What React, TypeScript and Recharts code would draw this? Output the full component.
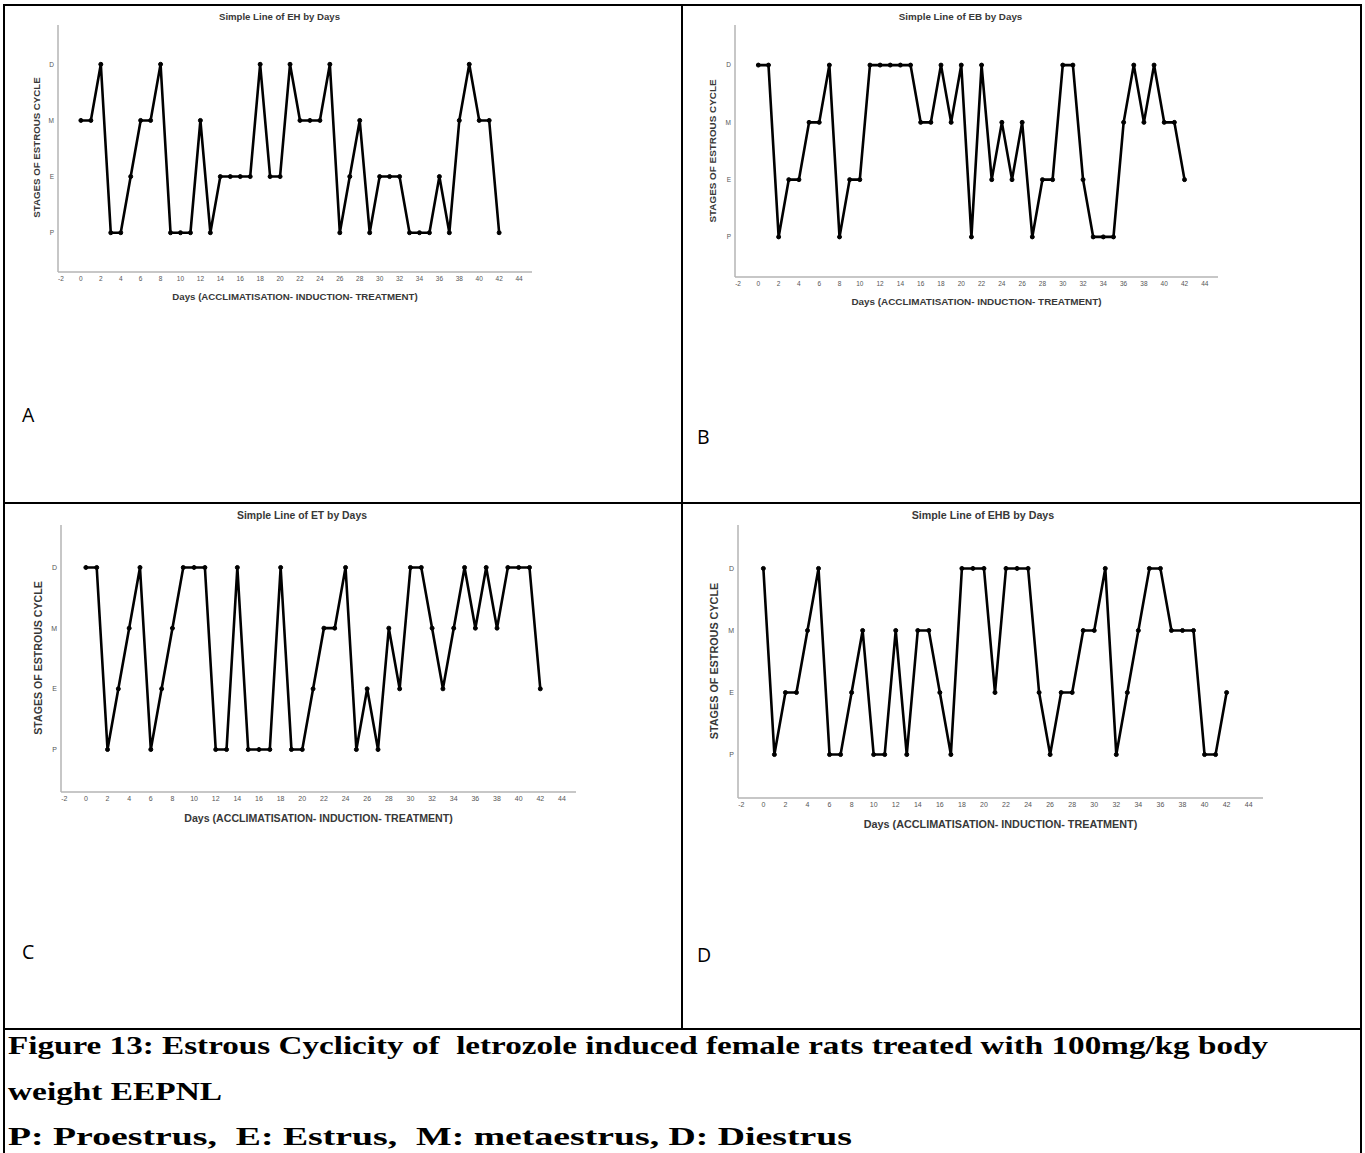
import { Line, LineChart, XAxis, YAxis } from "recharts";

// days of observation (acclimatisation - induction - treatment)
const days = [
  0, 1, 2, 3, 4, 5, 6, 7, 8, 9, 10, 11, 12, 13, 14, 15, 16, 17, 18, 19, 20, 21,
  22, 23, 24, 25, 26, 27, 28, 29, 30, 31, 32, 33, 34, 35, 36, 37, 38, 39, 40,
  41, 42,
];
const dayTicks = [
  -2, 0, 2, 4, 6, 8, 10, 12, 14, 16, 18, 20, 22, 24, 26, 28, 30, 32, 34, 36,
  38, 40, 42, 44,
];
const stageNames = ["P", "E", "M", "D"];
const stageTicks = [1, 2, 3, 4];

// stage read per day for each group
const ehStages = [
  "M", "M", "D", "P", "P", "E", "M", "M", "D", "P", "P", "P", "M", "P", "E",
  "E", "E", "E", "D", "E", "E", "D", "M", "M", "M", "D", "P", "E", "M", "P",
  "E", "E", "E", "P", "P", "P", "E", "P", "M", "D", "M", "M", "P",
];
const ebStages = [
  "D", "D", "P", "E", "E", "M", "M", "D", "P", "E", "E", "D", "D", "D", "D",
  "D", "M", "M", "D", "M", "D", "P", "D", "E", "M", "E", "M", "P", "E", "E",
  "D", "D", "E", "P", "P", "P", "M", "D", "M", "D", "M", "M", "E",
];
const etStages = [
  "D", "D", "P", "E", "M", "D", "P", "E", "M", "D", "D", "D", "P", "P", "D",
  "P", "P", "P", "D", "P", "P", "E", "M", "M", "D", "P", "E", "P", "M", "E",
  "D", "D", "M", "E", "M", "D", "M", "D", "M", "D", "D", "D", "E",
];
const ehbStages = [
  "D", "P", "E", "E", "M", "D", "P", "P", "E", "M", "P", "P", "M", "P", "M",
  "M", "E", "P", "D", "D", "D", "E", "D", "D", "D", "E", "P", "E", "E", "M",
  "M", "D", "P", "E", "M", "D", "D", "M", "M", "M", "P", "P", "E",
];

const toRows = (stages: string[]) =>
  days.map((day, i) => ({ day, stage: stageNames.indexOf(stages[i]) + 1 }));

type Panel = {
  title: string;
  stages: string[];
  plot: { l: number; t: number; r: number; b: number };
  titleX: number;
  titleY: number;
  titleSize: number;
  yTitleX: number;
  yTitleY: number;
  xTitleY: number;
  axisTitleSize: number;
  tickSize: number;
  letter: string;
  letterX: number;
  letterY: number;
};

const panels: Panel[] = [
  {
    title: "Simple Line of EH by Days",
    stages: ehStages,
    plot: { l: 58, t: 25, r: 532, b: 272 },
    titleX: 279.5,
    titleY: 20,
    titleSize: 9.6,
    yTitleX: 36,
    yTitleY: 147.5,
    xTitleY: 300,
    axisTitleSize: 9.7,
    tickSize: 6.5,
    letter: "A",
    letterX: 22,
    letterY: 422,
  },
  {
    title: "Simple Line of EB by Days",
    stages: ebStages,
    plot: { l: 735, t: 25, r: 1218, b: 277 },
    titleX: 960.5,
    titleY: 20,
    titleSize: 9.8,
    yTitleX: 712.5,
    yTitleY: 151,
    xTitleY: 305,
    axisTitleSize: 9.9,
    tickSize: 6.5,
    letter: "B",
    letterX: 697,
    letterY: 444,
  },
  {
    title: "Simple Line of ET by Days",
    stages: etStages,
    plot: { l: 61, t: 525, r: 576, b: 792 },
    titleX: 302,
    titleY: 519,
    titleSize: 10.4,
    yTitleX: 38,
    yTitleY: 658,
    xTitleY: 822,
    axisTitleSize: 10.6,
    tickSize: 7,
    letter: "C",
    letterX: 22,
    letterY: 959,
  },
  {
    title: "Simple Line of EHB by Days",
    stages: ehbStages,
    plot: { l: 738, t: 525, r: 1263, b: 798 },
    titleX: 983,
    titleY: 519,
    titleSize: 10.7,
    yTitleX: 714,
    yTitleY: 661,
    xTitleY: 828,
    axisTitleSize: 10.8,
    tickSize: 7,
    letter: "D",
    letterX: 697,
    letterY: 962,
  },
];

const SANS = "'Liberation Sans', Arial, sans-serif";
const AXIS = { stroke: "#b4b4b4", strokeWidth: 1.5 };

function StagePanel({ p }: { p: Panel }) {
  const yw = 40;
  const xh = 22;
  const pad = 3;
  const w = yw + (p.plot.r - p.plot.l) + pad;
  const h = pad + (p.plot.b - p.plot.t) + xh;
  return (
    <div style={{ position: "absolute", left: p.plot.l - yw, top: p.plot.t - pad }}>
      <LineChart
        width={w}
        height={h}
        data={toRows(p.stages)}
        margin={{ top: pad, right: pad, bottom: 0, left: 0 }}
      >
        <XAxis
          type="number"
          dataKey="day"
          domain={[-2.3, 45.3]}
          ticks={dayTicks}
          interval={0}
          allowDataOverflow
          height={xh}
          axisLine={AXIS}
          tickLine={false}
          tickSize={0}
          tickMargin={4}
          tick={{ fontSize: p.tickSize, fill: "#555", fontFamily: SANS }}
        />
        <YAxis
          type="number"
          domain={[0.3, 4.7]}
          ticks={stageTicks}
          interval={0}
          allowDataOverflow
          width={yw}
          tickFormatter={(v) => stageNames[v - 1]}
          axisLine={AXIS}
          tickLine={false}
          tickSize={0}
          tickMargin={4}
          tick={{ fontSize: p.tickSize, fill: "#555", fontFamily: SANS }}
        />
        <Line
          type="linear"
          dataKey="stage"
          stroke="#000"
          strokeWidth={2.6}
          dot={{ r: 2, fill: "#000", stroke: "#000", strokeWidth: 1 }}
          isAnimationActive={false}
        />
      </LineChart>
    </div>
  );
}

export default function App() {
  return (
    <div
      style={{
        position: "absolute",
        left: 0,
        top: 0,
        width: 1365,
        height: 1153,
        background: "#fff",
        overflow: "hidden",
      }}
    >
      {panels.map((p) => (
        <StagePanel key={p.letter} p={p} />
      ))}
      <svg
        width={1365}
        height={1153}
        style={{ position: "absolute", left: 0, top: 0, pointerEvents: "none" }}
      >
        <g stroke="#000" strokeWidth={2}>
          <line x1={3} y1={5} x2={1362} y2={5} />
          <line x1={4} y1={4} x2={4} y2={1153} />
          <line x1={1361} y1={4} x2={1361} y2={1153} />
          <line x1={682} y1={5} x2={682} y2={1029} />
          <line x1={4} y1={503} x2={1361} y2={503} />
          <line x1={4} y1={1029} x2={1361} y2={1029} />
        </g>
        {panels.map((p) => (
          <g key={p.letter} fontFamily={SANS} fontWeight="bold" fill="#383838">
            <text x={p.titleX} y={p.titleY} fontSize={p.titleSize} textAnchor="middle">
              {p.title}
            </text>
            <text
              x={(p.plot.l + p.plot.r) / 2}
              y={p.xTitleY}
              fontSize={p.axisTitleSize}
              textAnchor="middle"
            >
              Days (ACCLIMATISATION- INDUCTION- TREATMENT)
            </text>
            <text
              x={p.yTitleX}
              y={p.yTitleY}
              fontSize={p.axisTitleSize}
              textAnchor="middle"
              dominantBaseline="central"
              transform={`rotate(-90 ${p.yTitleX} ${p.yTitleY})`}
            >
              STAGES OF ESTROUS CYCLE
            </text>
            <text
              x={p.letterX}
              y={p.letterY}
              fontFamily="'Open Sans', sans-serif"
              fontWeight="normal"
              fontSize={19.5}
              fill="#000"
            >
              {p.letter}
            </text>
          </g>
        ))}
        <g
          fontFamily="'Liberation Serif', 'Times New Roman', serif"
          fontWeight="bold"
          fontSize={25.5}
          fill="#000"
        >
          <text
            x={8}
            y={1054}
            xmlSpace="preserve"
            style={{ whiteSpace: "pre" }}
            textLength={1260}
            lengthAdjust="spacingAndGlyphs"
          >
            {"Figure 13: Estrous Cyclicity of  letrozole induced female rats treated with 100mg/kg body"}
          </text>
          <text x={8} y={1100} textLength={214} lengthAdjust="spacingAndGlyphs">
            {"weight EEPNL"}
          </text>
          <text
            x={8}
            y={1145}
            xmlSpace="preserve"
            style={{ whiteSpace: "pre" }}
            textLength={844}
            lengthAdjust="spacingAndGlyphs"
          >
            {"P: Proestrus,  E: Estrus,  M: metaestrus, D: Diestrus"}
          </text>
        </g>
      </svg>
    </div>
  );
}
